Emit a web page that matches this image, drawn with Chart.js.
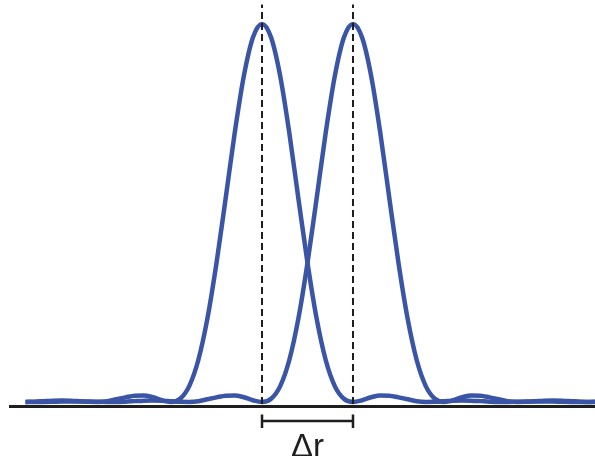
<!DOCTYPE html>
<html>
<head>
<meta charset="utf-8">
<script src="https://cdn.jsdelivr.net/npm/chart.js@4.4.1/dist/chart.umd.min.js"></script>
<style>
  html, body { margin: 0; padding: 0; background: #fff; }
  #wrap { width: 595px; height: 456px; }
</style>
</head>
<body>
<div id="wrap"><canvas id="myChart" width="595" height="456"></canvas></div>
<script>
// positions in units of the separation (peak 1 at 0, peak 2 at 1)
const xValues = [
  -2.6, -2.5, -2.4, -2.3, -2.2, -2.1, -2.0, -1.9, -1.8, -1.7, -1.6, -1.5, -1.4, -1.3, -1.2, -1.1,
  -1.0, -0.9, -0.8, -0.7, -0.6, -0.5, -0.4, -0.3, -0.2, -0.1, 0.0, 0.1, 0.2, 0.3, 0.4, 0.5,
  0.6, 0.7, 0.8, 0.9, 1.0, 1.1, 1.2, 1.3, 1.4, 1.5, 1.6, 1.7, 1.8, 1.9, 2.0, 2.1,
  2.2, 2.3, 2.4, 2.5, 2.6, 2.7, 2.8, 2.9, 3.0, 3.1, 3.2, 3.3, 3.4, 3.5, 3.6, 3.7
];

// intensity
const peak1 = [
  0.0001, 0.0009, 0.0023, 0.0036, 0.0041, 0.0036, 0.0020, 0.0004, 0.0001, 0.0021, 0.0073, 0.0122, 0.0168, 0.0175, 0.0125, 0.0046,
  0, 0.0085, 0.042, 0.111, 0.221, 0.368, 0.538, 0.712, 0.862, 0.964, 1, 0.964, 0.862, 0.712, 0.538, 0.368,
  0.221, 0.111, 0.042, 0.0085, 0, 0.0046, 0.0125, 0.0175, 0.0168, 0.0122, 0.0073, 0.0021, 0.0001, 0.0004, 0.0020, 0.0036,
  0.0041, 0.0036, 0.0023, 0.0009, 0.0001, 0.0001, 0.0006, 0.0012, 0.0016, 0.0015, 0.0011, 0.0005, 0.0001, 0, 0.0002, 0.0005
];

// intensity
const peak2 = [
  0.0002, 0, 0.0001, 0.0005, 0.0011, 0.0015, 0.0016, 0.0012, 0.0006, 0.0001, 0.0001, 0.0009, 0.0023, 0.0036, 0.0041, 0.0036,
  0.0020, 0.0004, 0.0001, 0.0021, 0.0073, 0.0122, 0.0168, 0.0175, 0.0125, 0.0046, 0, 0.0085, 0.042, 0.111, 0.221, 0.368,
  0.538, 0.712, 0.862, 0.964, 1, 0.964, 0.862, 0.712, 0.538, 0.368, 0.221, 0.111, 0.042, 0.0085, 0, 0.0046,
  0.0125, 0.0175, 0.0168, 0.0122, 0.0073, 0.0021, 0.0001, 0.0004, 0.0020, 0.0036, 0.0041, 0.0036, 0.0023, 0.0009, 0.0001, 0.0001
];

const peakCenters = [0, 1];
const markerSpan = [-0.005, 1.0515];
const separationLabel = 'Δr';

const blue = '#3a55a6';
const ink = '#1e1e1e';

const toPoints = (ys) => ys.map((y, i) => ({ x: xValues[i], y: y }));

// bracket with label under the axis between the two centres
const bracketPlugin = {
  id: 'bracket',
  afterDraw(chart) {
    const ctx = chart.ctx;
    const xs = chart.scales.x;
    const a = xs.getPixelForValue(peakCenters[0]);
    const b = xs.getPixelForValue(peakCenters[1]);
    ctx.save();
    ctx.strokeStyle = ink;
    ctx.lineWidth = 2.5;
    ctx.beginPath();
    ctx.moveTo(a, 421); ctx.lineTo(b, 421);
    ctx.moveTo(a, 414.5); ctx.lineTo(a, 428);
    ctx.moveTo(b, 414.5); ctx.lineTo(b, 428);
    ctx.stroke();
    ctx.fillStyle = ink;
    ctx.font = '33px "Liberation Sans", Arial, sans-serif';
    ctx.textAlign = 'center';
    ctx.textBaseline = 'alphabetic';
    ctx.fillText(separationLabel, (a + b) / 2, 457);
    ctx.restore();
  }
};

const markerSets = peakCenters.map((c) => ({
  data: markerSpan.map((y) => ({ x: c, y: y })),
  borderColor: ink,
  borderWidth: 2,
  borderDash: [7, 4],
  pointRadius: 0,
  fill: false
}));

new Chart(document.getElementById('myChart'), {
  type: 'line',
  data: {
    datasets: [
      ...markerSets,
      {
        data: toPoints(peak1),
        borderColor: blue,
        borderWidth: 4.5,
        pointRadius: 0,
        cubicInterpolationMode: 'monotone',
        fill: false
      },
      {
        data: toPoints(peak2),
        borderColor: blue,
        borderWidth: 4.5,
        pointRadius: 0,
        cubicInterpolationMode: 'monotone',
        fill: false
      }
    ]
  },
  options: {
    responsive: false,
    animation: false,
    devicePixelRatio: 1,
    layout: { padding: { left: 10, right: 0, top: 0, bottom: 50 } },
    plugins: { legend: { display: false }, tooltip: { enabled: false } },
    scales: {
      x: {
        type: 'linear',
        min: -2.77,
        max: 3.66,
        ticks: { display: false },
        grid: { display: false, drawTicks: false },
        border: { display: true, color: ink, width: 3 }
      },
      y: {
        display: false,
        min: -0.0106,
        max: 1.0635
      }
    }
  },
  plugins: [bracketPlugin]
});
</script>
</body>
</html>
